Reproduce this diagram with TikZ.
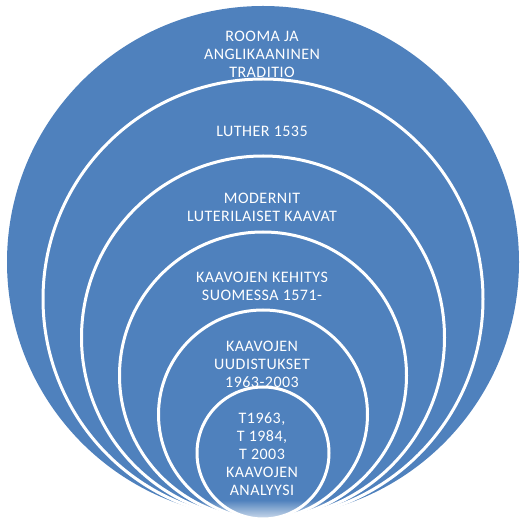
\documentclass[tikz,border=0pt]{standalone}
\usepackage{fontspec}
\setmainfont{Carlito}[LetterSpace=3]
\usetikzlibrary{fadings}
\definecolor{ringblue}{HTML}{4F81BD}
\tikzfading[name=fadedown, top color=transparent!100, bottom color=transparent!0]
\tikzset{
  ring/.style={fill=ringblue, draw=white, line width=3pt},
  label/.style={text=white, align=center, font=\fontsize{16}{18}\selectfont, inner sep=0pt}
}
\begin{document}
\begin{tikzpicture}[x=1pt,y=-1pt]
\useasboundingbox (0,0) rectangle (530,526);
\fill[ringblue] (263,262) circle (256);
\path[ring] (263,299) circle (220);
\path[ring] (263,337.5) circle (181.5);
\path[ring] (263,375.5) circle (143.5);
\path[ring] (263,414.5) circle (104.5);
\path[ring] (263,453) circle (66);
\fill[white, path fading=fadedown] (0,500) rectangle (530,526);
\node[label] (n1) at (262,54) {ROOMA JA\\ANGLIKAANINEN\\TRADITIO};
\node[label] (n2) at (262,131) {LUTHER 1535};
\node[label] (n3) at (262,207) {MODERNIT\\LUTERILAISET KAAVAT};
\node[label] (n4) at (262,286) {KAAVOJEN KEHITYS\\SUOMESSA 1571-};
\node[label] (n5) at (262,364) {KAAVOJEN\\UUDISTUKSET\\1963-2003};
\node[label] (n6) at (262,454) {T1963,\\T 1984,\\T 2003\\KAAVOJEN\\ANALYYSI};
\end{tikzpicture}
\end{document}
